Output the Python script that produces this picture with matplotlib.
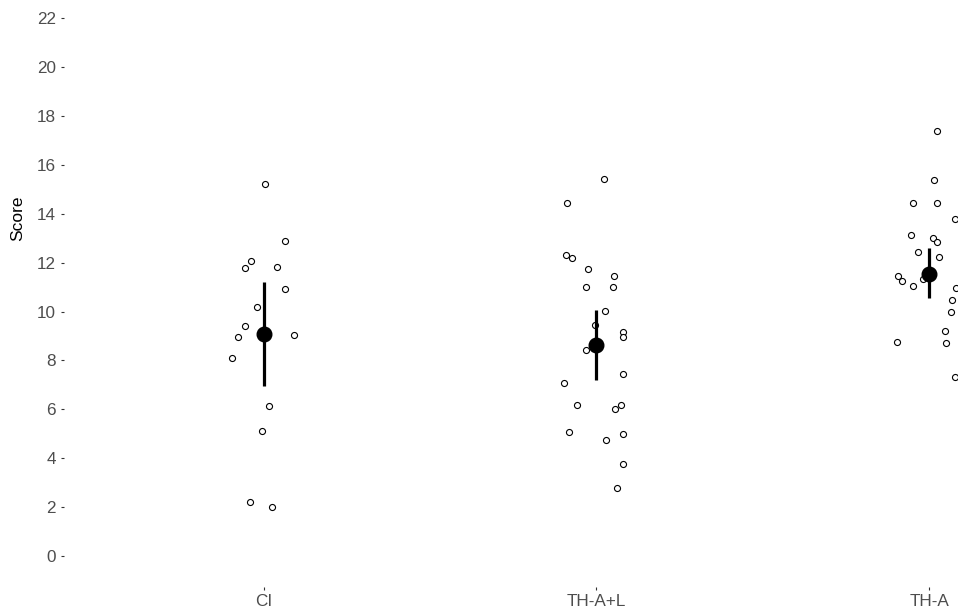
import matplotlib
matplotlib.use("Agg")
import matplotlib.pyplot as plt
import numpy as np

plt.rcParams['font.family'] = ['Liberation Sans', 'DejaVu Sans']

groups = ['CI', 'TH-A+L', 'TH-A']

# jittered raw scores (value, horizontal jitter offset) per group
ci_scores = [15.23, 12.89, 12.08, 11.77, 11.81, 10.92, 10.18, 9.41, 8.95, 9.04,
             8.10, 6.14, 5.13, 2.22, 2.00]
ci_jitter = [0.004, 0.064, -0.038, -0.055, 0.040, 0.064, -0.019, -0.056, -0.077, 0.091,
             -0.094, 0.017, -0.005, -0.041, 0.026]

thal_scores = [15.43, 14.43, 12.30, 12.21, 11.73, 11.44, 11.01, 11.01, 10.02, 9.44,
               9.17, 8.95, 8.43, 7.45, 7.09, 6.17, 6.18, 6.00, 5.09, 4.98,
               4.76, 3.78, 2.77]
thal_jitter = [0.023, -0.088, -0.091, -0.074, -0.024, 0.052, -0.032, 0.050, 0.027, -0.003,
               0.079, 0.079, -0.030, 0.081, -0.097, -0.058, 0.074, 0.055, -0.083, 0.079,
               0.028, 0.079, 0.062]

tha_scores = [17.40, 15.38, 14.46, 14.46, 13.80, 13.13, 13.02, 12.84, 12.45, 12.25,
              11.47, 11.25, 11.06, 11.32, 10.98, 10.47, 9.97, 9.21, 8.74, 8.73,
              7.34]
tha_jitter = [0.024, 0.014, -0.050, 0.024, 0.078, -0.055, 0.013, 0.024, -0.033, 0.031,
              -0.095, -0.082, -0.050, -0.017, 0.081, 0.069, 0.065, 0.049, -0.098, 0.052,
              0.079]

# group means with interval
means = [9.08, 8.62, 11.54]
lower = [6.96, 7.20, 10.54]
upper = [11.20, 10.07, 12.61]

yticks = list(range(0, 23, 2))

fig = plt.figure(figsize=(9.58, 6.15), dpi=100)
# panel runs past the right edge of the figure (cropped like the reference)
ax = fig.add_axes([64 / 958, 28 / 615, 1064.8 / 958, 587 / 615])

xs = np.arange(1, len(groups) + 1)
for x, scores, jitter in zip(xs, [ci_scores, thal_scores, tha_scores],
                             [ci_jitter, thal_jitter, tha_jitter]):
    ax.scatter(x + np.array(jitter), scores, s=19, facecolors='white',
               edgecolors='black', linewidths=0.8, zorder=2)

ax.vlines(xs, lower, upper, color='black', linewidth=2.3, zorder=3)
ax.plot(xs, means, 'o', color='black', markersize=10.5, zorder=4)

ax.set_xlim(0.4, 3.6)
ax.set_ylim(-1.27, 22.75)
ax.set_xticks(xs)
ax.set_xticklabels(groups)
ax.set_yticks(yticks)
ax.tick_params(axis='both', length=2.5, width=0.8, color='#333333',
               labelcolor='#4D4D4D', labelsize=12.3)
ax.tick_params(axis='y', pad=3.4)
ax.tick_params(axis='x', pad=2.6)

for side in ax.spines.values():
    side.set_visible(False)

ax.set_ylabel('Score', fontsize=12.5, color='black')
ax.yaxis.set_label_coords(-0.0366, 0.629)

fig.savefig('out.png', dpi=100)
